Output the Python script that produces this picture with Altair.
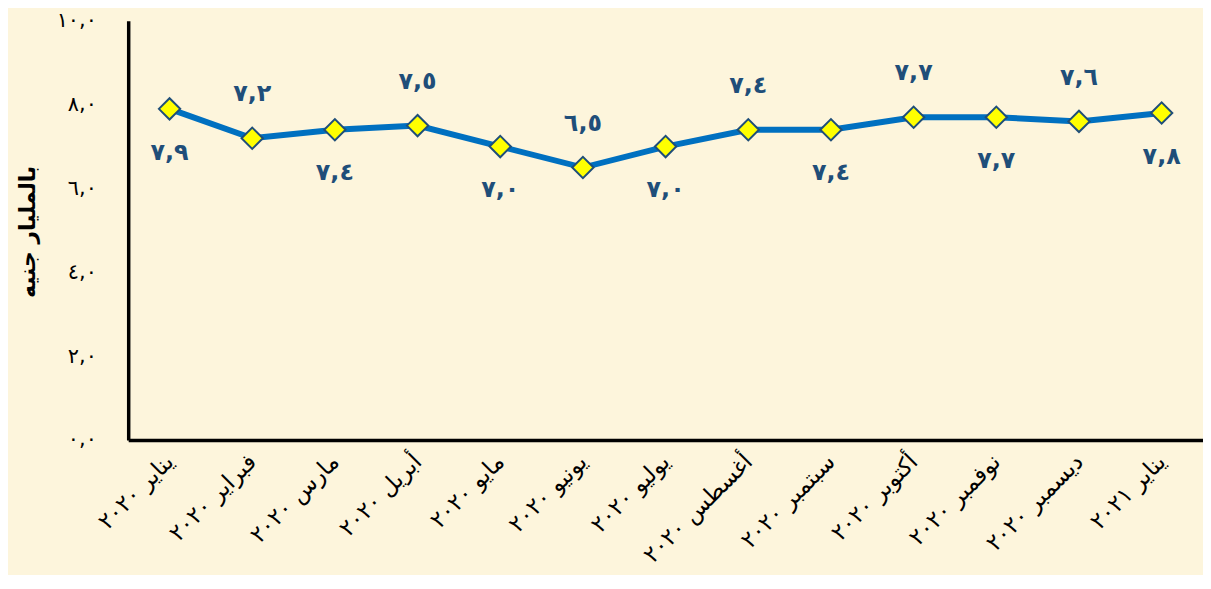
import altair as alt
import pandas as pd

months = ["يناير ٢٠٢٠", "فبراير ٢٠٢٠", "مارس ٢٠٢٠", "أبريل ٢٠٢٠", "مايو ٢٠٢٠",
          "يونيو ٢٠٢٠", "يوليو ٢٠٢٠", "أغسطس ٢٠٢٠", "سبتمبر ٢٠٢٠", "أكتوبر ٢٠٢٠",
          "نوفمبر ٢٠٢٠", "ديسمبر ٢٠٢٠", "يناير ٢٠٢١"]
values = [7.9, 7.2, 7.4, 7.5, 7.0, 6.5, 7.0, 7.4, 7.4, 7.7, 7.7, 7.6, 7.8]
label_side = ["below", "above", "below", "above", "below", "above", "below",
              "above", "below", "above", "below", "above", "below"]
y_ticks = [0, 2, 4, 6, 8, 10]
y_tick_labels = ["٠,٠", "٢,٠", "٤,٠", "٦,٠", "٨,٠", "١٠,٠"]
y_title = "بالمليار جنيه"

digits = str.maketrans("0123456789.", "٠١٢٣٤٥٦٧٨٩,")
df = pd.DataFrame({
    "month": months,
    "value": values,
    "side": label_side,
    "label": [f"{v:.1f}".translate(digits) for v in values],
})

expr = "''"
for t, l in zip(reversed(y_ticks), reversed(y_tick_labels)):
    expr = f"datum.value == {t} ? '{l}' : ({expr})"

FONT = "DejaVu Sans"
BLUE_LINE = "#0070C0"
DARK_BLUE = "#1F4E79"

x_enc = alt.X("month:N", sort=months, scale=alt.Scale(type="point", padding=0.5),
              axis=alt.Axis(title=None, labelAngle=-45, labelAlign="right",
                            labelBaseline="middle", labelPadding=18, ticks=False,
                            labelOverlap=False, labelFontSize=23, labelColor="black",
                            labelFont=FONT, domainColor="black", domainWidth=3.5,
                            labelLimit=300))
y_enc = alt.Y("value:Q", scale=alt.Scale(domain=[0, 10], nice=False, zero=True),
              axis=alt.Axis(title=y_title, values=y_ticks, labelExpr=expr, grid=False,
                            ticks=False, labelPadding=32, labelFontSize=21,
                            labelColor="black", labelFont=FONT, domainColor="black",
                            domainWidth=3.5, titleFont=FONT, titleFontSize=22,
                            titleFontWeight="bold", titleColor="black", titleAngle=-90,
                            titleX=-101, titleY=212, titleAlign="center",
                            titleBaseline="middle"))

base = alt.Chart(df).encode(x=x_enc, y=y_enc)

line = base.mark_line(color=BLUE_LINE, strokeWidth=6)
points = base.mark_point(shape="diamond", size=460, filled=True, fill="#FFFF00",
                         stroke=DARK_BLUE, strokeWidth=2, opacity=1)
above = base.transform_filter(alt.datum.side == "above").mark_text(
    dy=-44, font=FONT, fontSize=24, fontWeight="bold", color=DARK_BLUE,
    baseline="middle", align="center").encode(text="label:N")
below = base.transform_filter(alt.datum.side == "below").mark_text(
    dy=44, font=FONT, fontSize=24, fontWeight="bold", color=DARK_BLUE,
    baseline="middle", align="center").encode(text="label:N")

chart = alt.layer(line, points, above, below).properties(
    width=1082, height=422,
    autosize=alt.AutoSizeParams(type="none"),
    padding={"left": 121, "top": 11, "right": 0, "bottom": 134},
    background="#FDF5DC",
).configure_view(stroke=None)

chart.save("out.html", embed_options={"renderer": "svg", "actions": False})
